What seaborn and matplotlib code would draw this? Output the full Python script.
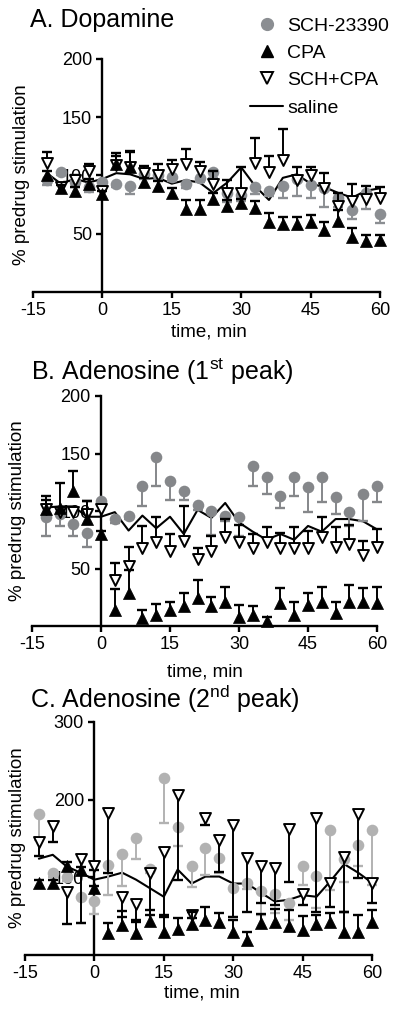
import numpy as np
import matplotlib
matplotlib.use("Agg")
import matplotlib.pyplot as plt
from matplotlib.lines import Line2D
import seaborn as sns

# time points (min)
times = [-12, -9, -6, -3, 0, 3, 6, 9, 12, 15, 18, 21, 24, 27, 30, 33, 36, 39, 42, 45, 48, 51, 54, 57, 60]

# A. Dopamine
sch_a = [96, 103, 94, 90, 94, 93, 91, 101, 100, 99, 93, 98, 103, 85, 83, 90, 87, 91, 97, 92, 89, 81, 70, 85, 67]
sch_a_err = [4, 3, 4, 4, 3, 3, 7, 4, 4, 4, 4, 4, 5, 8, 5, 6, 5, 10, 15, 11, 16, 8, 7, 14, 8]
cpa_a = [100, 89, 87, 93, 84, 110, 107, 94, 91, 85, 71, 71, 80, 74, 76, 72, 60, 58, 58, 60, 53, 61, 47, 44, 45]
cpa_a_err = [4, 3, 3, 4, 3, 7, 13, 4, 4, 4, 8, 8, 5, 5, 4, 6, 8, 6, 6, 6, 7, 9, 8, 5, 4]
schcpa_a = [111, 90, 96, 104, 87, 109, 107, 102, 100, 106, 110, 104, 93, 85, 85, 111, 103, 113, 96, 100, 89, 74, 78, 80, 81]
schcpa_a_err = [9, 3, 4, 6, 3, 10, 14, 6, 10, 7, 13, 8, 11, 11, 22, 21, 14, 27, 11, 7, 13, 11, 15, 11, 9]
saline_a = [102, 93, 97, 94, 97, 102, 101, 97, 98, 93, 96, 94, 85, 94, 107, 91, 79, 98, 101, 93, 90, 85, 81, 87, 89]

# B. Adenosine (1st peak)
sch_b = [95, 97, 89, 81, 109, 93, 96, 122, 147, 126, 117, 105, 100, 96, 95, 139, 130, 113, 130, 121, 130, 112, 99, 115, 122]
sch_b_err = [17, 10, 11, 12, 4, 3, 3, 18, 25, 16, 7, 4, 21, 5, 17, 17, 15, 10, 17, 22, 22, 15, 12, 24, 14]
cpa_b = [102, 103, 117, 93, 80, 14, 29, 7, 10, 14, 17, 24, 17, 21, 8, 10, 4, 20, 10, 18, 21, 11, 21, 21, 20]
cpa_b_err = [11, 21, 18, 16, 3, 18, 20, 7, 9, 7, 12, 16, 8, 13, 10, 7, 4, 13, 11, 11, 13, 10, 15, 12, 14]
schcpa_b = [102, 99, 99, 97, 102, 40, 52, 68, 73, 65, 74, 58, 65, 77, 73, 68, 73, 68, 68, 68, 77, 69, 71, 62, 69]
schcpa_b_err = [8, 4, 4, 12, 3, 15, 17, 19, 22, 15, 30, 10, 13, 16, 15, 12, 13, 13, 18, 15, 18, 17, 17, 12, 15]
saline_b = [103, 104, 104, 95, 95, 99, 83, 96, 85, 95, 80, 101, 94, 107, 90, 82, 75, 80, 75, 87, 82, 93, 93, 91, 84]

# C. Adenosine (2nd peak)
sch_c = [181, 106, 100, 75, 70, 116, 130, 151, 111, 228, 165, 114, 138, 125, 86, 93, 83, 79, 67, 114, 102, 161, 123, 141, 161]
sch_c_err = [33, 6, 5, 34, 17, 39, 41, 27, 6, 58, 25, 26, 35, 19, 37, 8, 31, 25, 22, 24, 41, 77, 29, 27, 71]
cpa_c = [93, 93, 114, 110, 86, 28, 39, 28, 44, 30, 33, 40, 45, 42, 29, 19, 41, 42, 37, 32, 40, 43, 30, 30, 43]
cpa_c_err = [3, 3, 6, 3, 3, 13, 18, 17, 14, 21, 15, 16, 17, 12, 16, 11, 12, 17, 21, 18, 12, 11, 26, 21, 15]
schcpa_c = [146, 166, 81, 124, 114, 183, 75, 66, 106, 132, 206, 52, 177, 148, 168, 125, 114, 112, 162, 79, 177, 93, 126, 181, 93]
schcpa_c_err = [19, 20, 41, 83, 5, 77, 26, 23, 54, 83, 109, 5, 9, 41, 119, 70, 47, 47, 68, 14, 122, 31, 71, 82, 26]
saline_c = [124, 129, 114, 106, 97, 101, 106, 97, 86, 75, 110, 92, 101, 101, 92, 92, 80, 69, 71, 77, 75, 95, 117, 106, 93]

xticks = [-15, 0, 15, 30, 45, 60]
legend_labels = ["SCH-23390", "CPA", "SCH+CPA", "saline"]

sns.set_style("ticks")
plt.rcParams['font.family'] = ['Liberation Sans', 'DejaVu Sans']
plt.rcParams['mathtext.fontset'] = 'custom'
plt.rcParams['mathtext.rm'] = 'Liberation Sans'
plt.rcParams['mathtext.it'] = 'Liberation Sans:italic'
plt.rcParams['axes.unicode_minus'] = False
for key in ['text.color', 'axes.labelcolor', 'xtick.color', 'ytick.color', 'axes.edgecolor']:
    plt.rcParams[key] = 'black'

W, H = 400, 1016
fig = plt.figure(figsize=(W / 100, H / 100), dpi=100)


def px_axes(left, right, top, bottom):
    return fig.add_axes([left / W, 1 - bottom / H, (right - left) / W, (bottom - top) / H])


def errs(ax, v, e, up, color, z):
    v = np.array(v, dtype=float)
    e = np.array(e, dtype=float)
    end = v + e if up else v - e
    ax.vlines(times, v, end, colors=color, lw=1.4, zorder=z, clip_on=False)
    ax.plot(times, end, ls='none', marker='_', ms=7.5, mew=1.7, color=color, zorder=z, clip_on=False)


def panel(ax, sch, sch_err, cpa, cpa_err, schcpa, schcpa_err, saline, gray, schcpa_up, ymax, yticks):
    sns.lineplot(x=times, y=saline, ax=ax, color='black', lw=1.5, errorbar=None, zorder=2.6)
    errs(ax, sch, sch_err, False, gray, 3)
    sns.scatterplot(x=times, y=sch, ax=ax, marker='o', s=70, color=gray, edgecolor=gray,
                    linewidth=0, zorder=3.1, clip_on=False)
    errs(ax, schcpa, schcpa_err, schcpa_up, 'black', 4)
    sns.scatterplot(x=times, y=schcpa, ax=ax, marker='v', s=62, color='white', edgecolor='black',
                    linewidth=1.4, zorder=4.1, clip_on=False)
    errs(ax, cpa, cpa_err, True, 'black', 5)
    sns.scatterplot(x=times, y=cpa, ax=ax, marker='^', s=75, color='black', edgecolor='black',
                    linewidth=0.5, zorder=5.1, clip_on=False)

    ax.set_xlim(-15, 60)
    ax.set_ylim(0, ymax)
    ax.set_xticks(xticks)
    ax.set_yticks(yticks)
    ax.set_xlabel('')
    ax.set_ylabel('')
    ax.spines['top'].set_visible(False)
    ax.spines['right'].set_visible(False)
    ax.spines['left'].set_position(('data', 0))
    for s in ['left', 'bottom']:
        ax.spines[s].set_linewidth(1.7)
        ax.spines[s].set_color('black')
    ax.tick_params(axis='both', length=4.5, width=1.7, labelsize=13, pad=3,
                   color='black', labelcolor='black')
    ax.patch.set_alpha(0)


ax_a = px_axes(33, 380, 59, 292)
panel(ax_a, sch_a, sch_a_err, cpa_a, cpa_a_err, schcpa_a, schcpa_a_err, saline_a,
      '#8b8e92', True, 200, [50, 100, 150, 200])

ax_b = px_axes(32, 377, 396, 626)
panel(ax_b, sch_b, sch_b_err, cpa_b, cpa_b_err, schcpa_b, schcpa_b_err, saline_b,
      '#85878a', True, 200, [50, 100, 150, 200])

ax_c = px_axes(25, 372, 722, 955)
panel(ax_c, sch_c, sch_c_err, cpa_c, cpa_c_err, schcpa_c, schcpa_c_err, saline_c,
      '#b2b2b2', False, 300, [100, 200, 300])

# titles
fig.text(30 / W, 1 - 27 / H, "A. Dopamine", fontsize=18, va='baseline')
fig.text(31 / W, 1 - 380 / H, "B. Adenosine (1$^{\\rm st}$ peak)", fontsize=18, va='baseline')
fig.text(30 / W, 1 - 708 / H, "C. Adenosine (2$^{\\rm nd}$ peak)", fontsize=18, va='baseline')

# axis labels
for yc, xc in [(175, 22), (511, 18), (838, 18)]:
    fig.text(xc / W, 1 - yc / H, "% predrug stimulation", rotation=90, fontsize=13.5,
             ha='center', va='center')
for yc, xc in [(332, 209), (672, 205), (993, 202)]:
    fig.text(xc / W, 1 - yc / H, "time, min", fontsize=13.5, ha='center', va='center')

# legend
handles = [
    Line2D([0], [0], marker='o', ls='', color='#8b8e92', ms=8.5),
    Line2D([0], [0], marker='^', ls='', color='black', ms=8.5),
    Line2D([0], [0], marker='v', ls='', mfc='white', mec='black', mew=1.4, ms=8),
    Line2D([0], [0], color='black', lw=1.5),
]
fig.legend(handles, legend_labels, loc='upper left', bbox_to_anchor=(250 / W, 1 - 17 / H),
           frameon=False, fontsize=14, handlelength=1.7, handletextpad=0.2,
           labelspacing=0.5, borderpad=0, borderaxespad=0)

fig.savefig("out.png", dpi=100)
